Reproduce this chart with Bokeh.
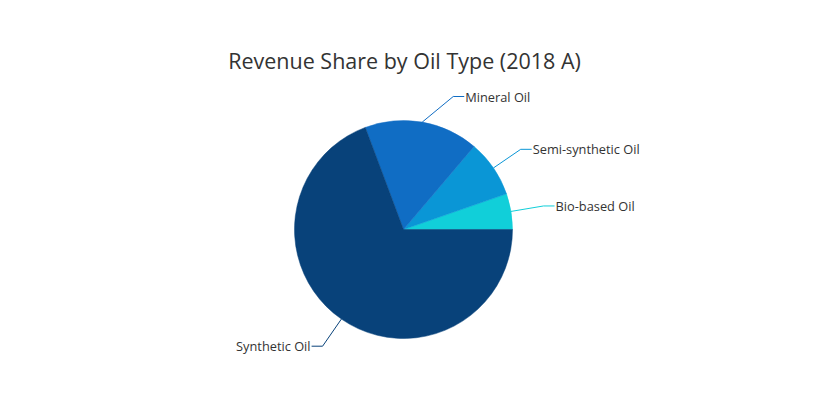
import math
from bokeh.plotting import figure
from bokeh.models import Range1d, Label, ColumnDataSource
from bokeh.core.properties import value
from bokeh.embed import file_html
from bokeh.resources import INLINE

categories = ["Bio-based Oil", "Semi-synthetic Oil", "Mineral Oil", "Synthetic Oil"]
shares = [5.3, 8.5, 16.9, 69.3]
colors = ["#11cfd9", "#0a96d6", "#106dc4", "#08427a"]
title_text = "Revenue Share by Oil Type (2018 A)"

W, H = 804, 384
CX, CY = 403, 229  # pie centre in page pixels
R = 109

p = figure(width=W, height=H, output_backend="svg", toolbar_location=None,
           x_range=Range1d(-CX, W - CX), y_range=Range1d(CY - H, CY),
           min_border=0, outline_line_color=None)
p.axis.visible = False
p.grid.visible = False
p.background_fill_color = "white"

total = sum(shares)
starts, ends = [], []
acc = 0.0
for s in shares:
    starts.append(2 * math.pi * acc / total)
    acc += s
    ends.append(2 * math.pi * acc / total)

src = ColumnDataSource(dict(start=starts, end=ends, color=colors, cat=categories))
p.wedge(x=0, y=0, radius=R, start_angle="start", end_angle="end",
        fill_color="color", line_color="color", line_width=0.5, source=src)

# label connectors
RL = R + 33
for cat, a0, a1, col in zip(categories, starts, ends, colors):
    mid = (a0 + a1) / 2
    sx, sy = R * math.cos(mid), R * math.sin(mid)
    ey = RL * math.sin(mid)
    ey = max(min(ey, RL - 9), -(RL - 9))
    sign = 1 if math.cos(mid) >= 0 else -1
    ex = sign * math.sqrt(max(RL ** 2 - ey ** 2, 0))
    tx = ex + sign * 11
    p.line([sx, ex, tx], [sy, ey, ey], line_color=col, line_width=1)
    p.text(x=[tx + sign * 1], y=[ey], text=[cat], text_font=value("Open Sans"),
           text_font_size="12.8px", text_color="#333333", text_baseline="middle",
           text_align="left" if sign > 0 else "right")

p.add_layout(Label(x=404, y=H - 60, x_units="screen", y_units="screen", text=title_text,
                   text_font="Open Sans", text_font_size="21.5px", text_color="#333333",
                   text_align="center", text_baseline="middle"))

open("out.html", "w").write(file_html(p, INLINE))
